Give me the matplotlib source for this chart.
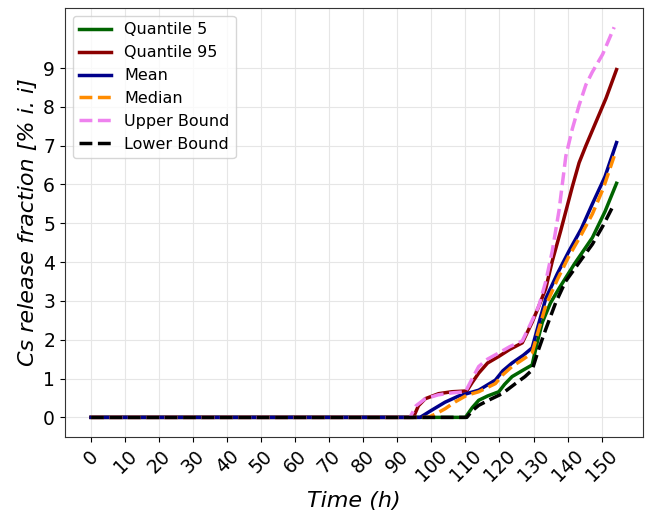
import numpy as np
import matplotlib
matplotlib.use('Agg')
import matplotlib.pyplot as plt

# time (h) and release fraction curves
t_q5 = [0, 20, 40, 60, 80, 100, 110, 112, 113.9, 116.5, 119.8, 121.5, 123.7, 127, 129.6, 131,
        132.6, 135, 137.5, 142, 147.3, 151, 154.4]
q5 = [0, 0, 0, 0, 0, 0, 0, 0.25, 0.44, 0.55, 0.66, 0.85, 1.05, 1.22, 1.35, 1.9,
      2.45, 2.95, 3.32, 3.95, 4.63, 5.3, 6.03]

t_q95 = [0, 20, 40, 60, 80, 94.7, 96.2, 98.2, 102.1, 106, 110.4, 112, 113.9, 116.5, 119.8, 123,
         126.7, 129.6, 131.5, 133.6, 135.5, 138.0, 141.4, 143.4, 145.4, 148.3, 151.3, 154.4]
q95 = [0, 0, 0, 0, 0, 0, 0.3, 0.48, 0.61, 0.66, 0.68, 0.9, 1.14, 1.4, 1.57, 1.75,
       1.92, 2.45, 2.85, 3.32, 4.02, 4.81, 5.94, 6.56, 7.0, 7.6, 8.22, 8.96]

t_mean = [0, 20, 40, 60, 80, 96.7, 100, 104.0, 108, 113.9, 118.8, 121, 123.7, 127, 129.6, 131.5,
          133.6, 137, 140.4, 144, 147.3, 151, 154.4]
mean = [0, 0, 0, 0, 0, 0, 0.18, 0.39, 0.55, 0.7, 0.96, 1.2, 1.4, 1.6, 1.79, 2.4,
        3.06, 3.7, 4.28, 4.85, 5.5, 6.2, 7.08]

t_med = [0, 20, 40, 60, 80, 99.1, 101.5, 104.0, 107, 110.4, 113.9, 118.8, 121, 123.7, 127, 129.6, 131.5,
         133.6, 137, 140.4, 144, 147.3, 150.5, 153.7]
median = [0, 0, 0, 0, 0, 0, 0.1, 0.22, 0.4, 0.57, 0.66, 0.87, 1.1, 1.31, 1.5, 1.66, 2.25,
          2.88, 3.55, 4.15, 4.7, 5.24, 5.9, 6.73]

t_up = [0, 20, 40, 60, 80, 93.7, 95.5, 98.2, 102, 106, 110.0, 112, 113.9, 116.5, 119.8, 123, 126.7,
        129.1, 131.6, 133.6, 135.5, 137.5, 139.5, 141.4, 143.4, 145.4, 147.3, 150.3, 153.7]
upper = [0, 0, 0, 0, 0, 0, 0.3, 0.48, 0.58, 0.63, 0.66, 1.0, 1.31, 1.5, 1.66, 1.82, 1.97,
         2.4, 2.88, 3.5, 4.28, 5.33, 6.73, 7.43, 8.04, 8.57, 8.9, 9.35, 10.05]

t_low = [0, 20, 40, 60, 80, 100, 110.4, 112, 113.9, 117, 120.8, 124.7, 127.5, 129.6, 131.5, 133.6,
         136.5, 139.4, 143.5, 147.3, 150.5, 153.7]
lower = [0, 0, 0, 0, 0, 0, 0, 0.17, 0.31, 0.45, 0.61, 0.87, 1.05, 1.22, 1.75, 2.27,
         2.95, 3.5, 4.0, 4.46, 4.95, 5.5]

fig = plt.figure(figsize=(6.48, 5.17), dpi=100)
ax = fig.add_axes([0.1, 0.155, 0.892, 0.83])

ax.plot(t_q5, q5, color='darkgreen', lw=2.5, label='Quantile 5')
ax.plot(t_q95, q95, color='darkred', lw=2.5, label='Quantile 95')
ax.plot(t_mean, mean, color='darkblue', lw=2.5, label='Mean')
ax.plot(t_med, median, color='darkorange', lw=2.5, ls='--', label='Median')
ax.plot(t_up, upper, color='violet', lw=2.5, ls='--', label='Upper Bound')
ax.plot(t_low, lower, color='black', lw=2.5, ls='--', label='Lower Bound')

ax.set_xticks(np.arange(0, 151, 10))
ax.set_yticks(np.arange(0, 10, 1))
ax.tick_params(axis='x', labelsize=13.5, labelrotation=45)
ax.tick_params(axis='y', labelsize=13.5)
for lab in ax.get_xticklabels():
    lab.set_ha('center')

ax.grid(True, color='#e6e6e6', lw=0.8)
for s in ax.spines.values():
    s.set_color('#333333')

ax.set_xlabel('Time (h)', fontsize=16, style='italic')
ax.set_ylabel('Cs release fraction [% i. i]', fontsize=16, style='italic')

ax.legend(loc='upper left', fontsize=11.5)

fig.savefig('out.png', dpi=100)
